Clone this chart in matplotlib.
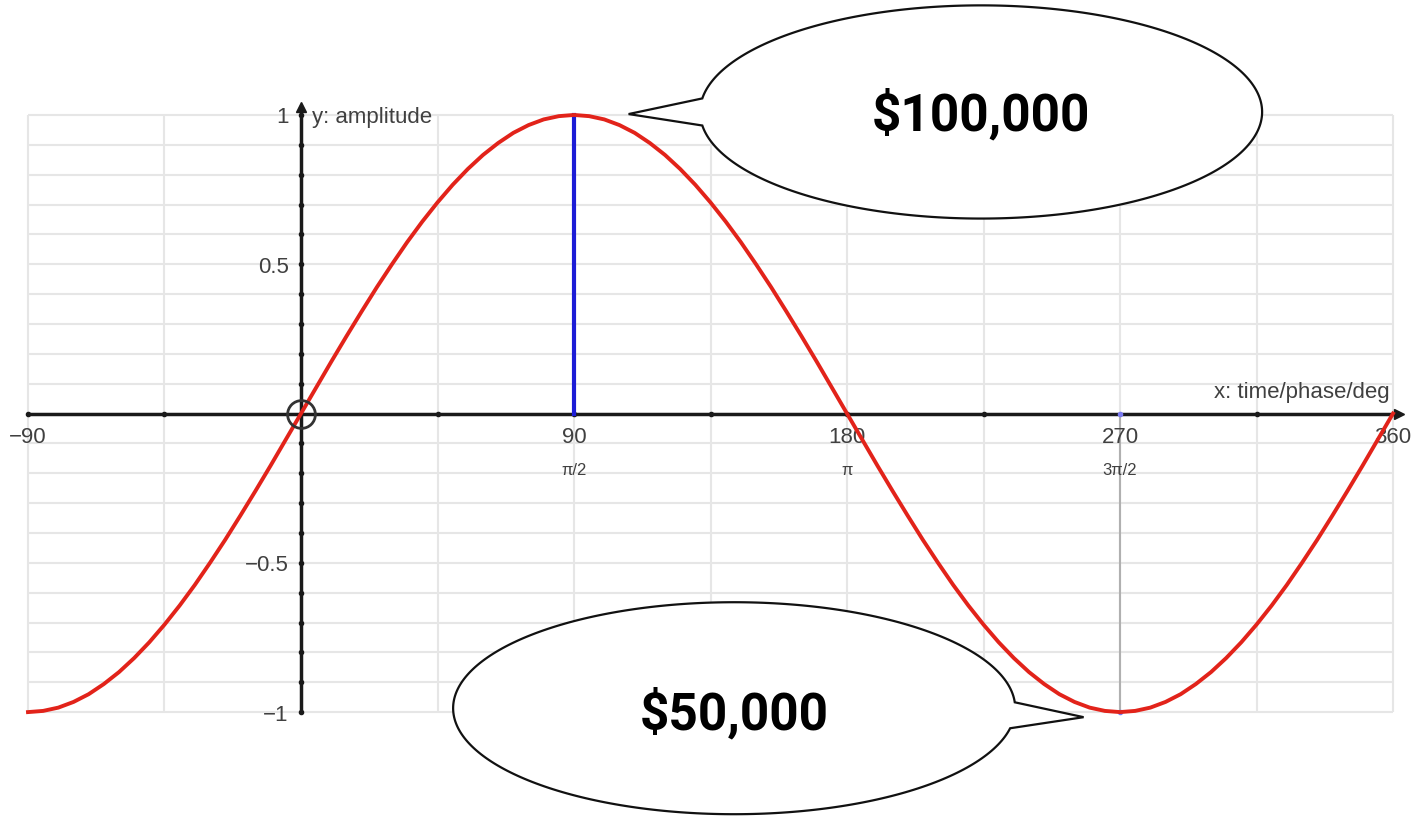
import numpy as np
import matplotlib
matplotlib.use("Agg")
import matplotlib.pyplot as plt
from matplotlib.path import Path
from matplotlib.patches import PathPatch

# sine wave, sampled every 5 degrees
phase_deg = list(range(-90, 361, 5))
amplitude = [
    -1.0, -0.996, -0.985, -0.966, -0.940, -0.906, -0.866, -0.819, -0.766, -0.707,
    -0.643, -0.574, -0.5, -0.423, -0.342, -0.259, -0.174, -0.087, 0.0,
    0.087, 0.174, 0.259, 0.342, 0.423, 0.5, 0.574, 0.643, 0.707,
    0.766, 0.819, 0.866, 0.906, 0.940, 0.966, 0.985, 0.996, 1.0,
    0.996, 0.985, 0.966, 0.940, 0.906, 0.866, 0.819, 0.766, 0.707,
    0.643, 0.574, 0.5, 0.423, 0.342, 0.259, 0.174, 0.087, 0.0,
    -0.087, -0.174, -0.259, -0.342, -0.423, -0.5, -0.574, -0.643, -0.707,
    -0.766, -0.819, -0.866, -0.906, -0.940, -0.966, -0.985, -0.996, -1.0,
    -0.996, -0.985, -0.966, -0.940, -0.906, -0.866, -0.819, -0.766, -0.707,
    -0.643, -0.574, -0.5, -0.423, -0.342, -0.259, -0.174, -0.087, 0.0,
]

x_ticks = [-90, 90, 180, 270, 360]
x_tick_labels = ["\u221290", "90", "180", "270", "360"]
pi_ticks = [90, 180, 270]
pi_labels = ["\u03c0/2", "\u03c0", "3\u03c0/2"]
y_ticks = [1, 0.5, -0.5, -1]
y_tick_labels = ["1", "0.5", "\u22120.5", "\u22121"]

peak = (90, 1.0)
trough = (270, -1.0)
peak_label = "$100,000"
trough_label = "$50,000"

GRID = "#e6e6e6"
LABEL = "#404040"

fig = plt.figure(figsize=(14.18, 8.16), dpi=100)
ax = fig.add_axes([0, 0, 1, 1])
ax.set_axis_off()
ax.set_xlim(-99.23, 368.24)
ax.set_ylim(-1.348, 1.385)

# grid box
ax.vlines(np.arange(-90, 361, 45), -1, 1, color=GRID, lw=1.5, zorder=1)
ax.hlines(np.round(np.arange(-1, 1.01, 0.1), 2), -90, 360, color=GRID, lw=1.5, zorder=1)

# axes with arrow heads
ax.plot([-90, 361], [0, 0], color="#1a1a1a", lw=2.5, zorder=3)
ax.plot([0, 0], [-1, 1.02], color="#1a1a1a", lw=2.5, zorder=3)
ax.plot(362, 0, marker=">", ms=7, color="#1a1a1a", zorder=3)
ax.plot(0, 1.025, marker="^", ms=7, color="#1a1a1a", zorder=3)
xd = [v for v in range(-90, 360, 45) if v not in (0, 270)]
ax.plot(xd, [0] * len(xd), "o", ms=3, color="#1a1a1a", zorder=4)
yd = [round(v, 1) for v in np.arange(-1, 1.01, 0.1) if abs(v) > 0.01]
ax.plot([0] * len(yd), yd, "o", ms=3, color="#1a1a1a", zorder=4)

# peak and trough markers
ax.plot([peak[0], peak[0]], [0, peak[1]], color="#1c1cd6", lw=3, zorder=4)
ax.plot([trough[0], trough[0]], [0, trough[1]], color="#b0b0b0", lw=1.5, zorder=2)
ax.plot([trough[0], trough[0]], [0, trough[1]], "o", ms=3, color="#7a7af0", zorder=5)

ax.plot(phase_deg, amplitude, color="#e2231a", lw=2.8, zorder=5)
ax.plot(0, 0, "o", ms=20, mfc="none", mec="#333333", mew=2, zorder=6)

# tick labels
lab = dict(family=["Liberation Sans", "DejaVu Sans"], fontsize=16, color=LABEL)
for x, t in zip(x_ticks, x_tick_labels):
    ax.text(x, -0.079, t, ha="center", va="center", **lab)
for x, t in zip(pi_ticks, pi_labels):
    ax.text(x, -0.19, t, ha="center", va="center", fontsize=12,
            family=["Liberation Sans", "DejaVu Sans"], color=LABEL)
for y, t in zip(y_ticks, y_tick_labels):
    ax.text(-4, y - 0.01, t, ha="right", va="center", **lab)
ax.text(359, 0.069, "x: time/phase/deg", ha="right", va="center", **lab)
ax.text(3.6, 0.99, "y: amplitude", ha="left", va="center", **lab)


def callout(center, width, height, tip, t_from, t_to, text, text_dy):
    cx, cy = center
    t = np.radians(np.linspace(t_from, t_to, 300))
    pts = np.column_stack([cx + width / 2 * np.cos(t), cy + height / 2 * np.sin(t)])
    pts = np.vstack([pts, tip, pts[:1]])
    codes = [Path.MOVETO] + [Path.LINETO] * (len(pts) - 2) + [Path.CLOSEPOLY]
    ax.add_patch(PathPatch(Path(pts, codes), facecolor="white",
                           edgecolor="#111111", lw=1.6, zorder=10))
    ax.text(cx, cy + text_dy, text, ha="center", va="center", fontsize=37,
            fontweight="bold", family="Roboto", color="black", zorder=11)


callout((224.2, 1.010), 185.3, 0.714, (peak[0] + 18, peak[1] + 0.003),
        187.3, 532.7, peak_label, -0.012)
callout((142.8, -0.987), 185.3, 0.710, (trough[0] - 12, trough[1] - 0.017),
        3.2, 349.1, trough_label, -0.02)

fig.savefig("out.png", dpi=100)
